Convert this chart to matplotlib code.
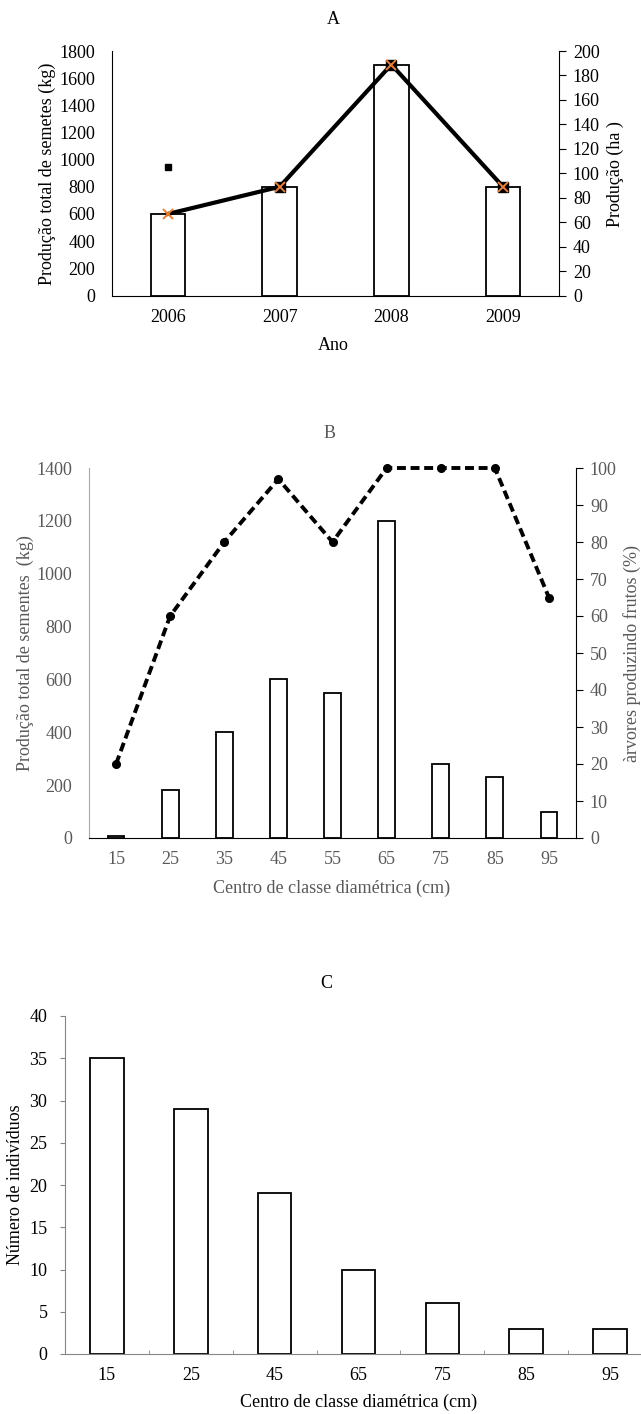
import matplotlib
matplotlib.use('Agg')
import matplotlib.pyplot as plt
import numpy as np

plt.rcParams['font.family'] = ['Liberation Serif', 'DejaVu Serif']
plt.rcParams['font.size'] = 13

# A - producao por ano
anos = ['2006', '2007', '2008', '2009']
producao_kg = [600, 800, 1700, 800]
producao_ha = [66.7, 88.9, 188.9, 88.9]
marcador_ha = [105, 88.9, 188.9, 88.9]

# B - producao por classe diametrica
classes_b = ['15', '25', '35', '45', '55', '65', '75', '85', '95']
sementes_kg = [8, 180, 400, 600, 550, 1200, 280, 230, 100]
arvores_pct = [20, 60, 80, 97, 80, 100, 100, 100, 65]

# C - numero de individuos
classes_c = ['15', '25', '45', '65', '75', '85', '95']
individuos = [35, 29, 19, 10, 6, 3, 3]

W, H = 641, 1414
cinza = '#595959'
cinza_eixo = '#868686'

def caixa(l, t, r, b):
    return [l / W, 1 - b / H, (r - l) / W, (b - t) / H]

def texto(x, y, s, **kw):
    fig.text(x / W, 1 - y / H, s, ha='center', va='center', **kw)

fig = plt.figure(figsize=(6.41, 14.14), dpi=100)

# ---------- A ----------
ax1 = fig.add_axes(caixa(112, 51, 559, 295.5))
x = np.arange(len(anos))
ax1.bar(x, producao_kg, width=0.31, color='white', edgecolor='black', linewidth=1.3, zorder=2)
ax1.set_xlim(-0.5, 3.5)
ax1.set_ylim(0, 1800)
ax1.set_yticks(np.arange(0, 1801, 200))
ax1.set_xticks(x)
ax1.set_xticklabels(anos)
ax1.tick_params(axis='y', length=0, pad=12)
ax1.tick_params(axis='x', length=0, pad=10)
for s in ['top', 'right']:
    ax1.spines[s].set_visible(False)

ax2 = ax1.twinx()
ax2.set_ylim(0, 200)
ax2.set_yticks(np.arange(0, 201, 20))
ax2.tick_params(axis='y', direction='out', length=5, pad=5)
for s in ['top', 'left', 'bottom']:
    ax2.spines[s].set_visible(False)
ax2.plot(x, producao_ha, color='black', lw=3, zorder=3)
ax2.plot(x[1:], marcador_ha[1:], 's', color='black', ms=6.5, zorder=4)
ax2.plot(x[0], marcador_ha[0], 's', color='black', ms=4.5, zorder=4)
ax2.plot(x, producao_ha, 'x', color='#ED7D31', ms=7, mew=1.4, zorder=5)

texto(333, 19, 'A')
texto(333, 345, 'Ano')
texto(47, 174, 'Produção total de semetes (kg)', rotation=90)
texto(615, 174, 'Produção (ha )', rotation=90)

# ---------- B ----------
bx1 = fig.add_axes(caixa(89, 468, 576, 838))
xb = np.arange(len(classes_b))
bx1.bar(xb, sementes_kg, width=0.31, color='white', edgecolor='black', linewidth=1.3, zorder=2)
bx1.set_xlim(-0.5, len(classes_b) - 0.5)
bx1.set_ylim(0, 1400)
bx1.set_yticks(np.arange(0, 1401, 200))
bx1.set_xticks(xb)
bx1.set_xticklabels(classes_b)
bx1.tick_params(axis='y', length=0, pad=12, labelcolor=cinza)
bx1.tick_params(axis='x', length=0, pad=9, labelcolor=cinza)
for s in ['top', 'right']:
    bx1.spines[s].set_visible(False)
bx1.spines['left'].set_color('#A6A6A6')

bx2 = bx1.twinx()
bx2.set_ylim(0, 100)
bx2.set_yticks(np.arange(0, 101, 10))
bx2.tick_params(axis='y', direction='out', length=5, pad=5, labelcolor=cinza)
for s in ['top', 'left', 'bottom']:
    bx2.spines[s].set_visible(False)
bx2.plot(xb, arvores_pct, color='black', lw=2.8, ls='--', dashes=(2.3, 1.2),
         marker='o', ms=5.5, zorder=3, clip_on=False)

texto(330, 433, 'B', color=cinza)
texto(332, 888, 'Centro de classe diamétrica (cm)', color=cinza)
texto(25, 653, 'Produção total de sementes  (kg)', rotation=90, color=cinza)
texto(632, 653, 'àrvores produzindo frutos (%)', rotation=90, color=cinza)

# ---------- C ----------
cx = fig.add_axes(caixa(65, 1016, 652, 1354))
xc = np.arange(len(classes_c))
cx.bar(xc, individuos, width=0.40, color='white', edgecolor='black', linewidth=1.3, zorder=2)
cx.set_xlim(-0.5, len(classes_c) - 0.5)
cx.set_ylim(0, 40)
cx.set_yticks(np.arange(0, 41, 5))
cx.set_xticks(xc)
cx.set_xticklabels(classes_c)
cx.set_xticks(xc[:-1] + 0.5, minor=True)
cx.tick_params(axis='x', which='major', length=0, pad=9)
cx.tick_params(axis='x', which='minor', direction='in', length=3, color=cinza_eixo)
cx.tick_params(axis='y', direction='out', length=3.6, pad=9, color=cinza_eixo)
for s in ['top', 'right']:
    cx.spines[s].set_visible(False)
for s in ['left', 'bottom']:
    cx.spines[s].set_color(cinza_eixo)

texto(326, 983, 'C')
texto(359, 1402, 'Centro de classe diamétrica (cm)')
texto(16, 1185, 'Número de indivíduos', rotation=90)

fig.savefig('out.png', dpi=100)
